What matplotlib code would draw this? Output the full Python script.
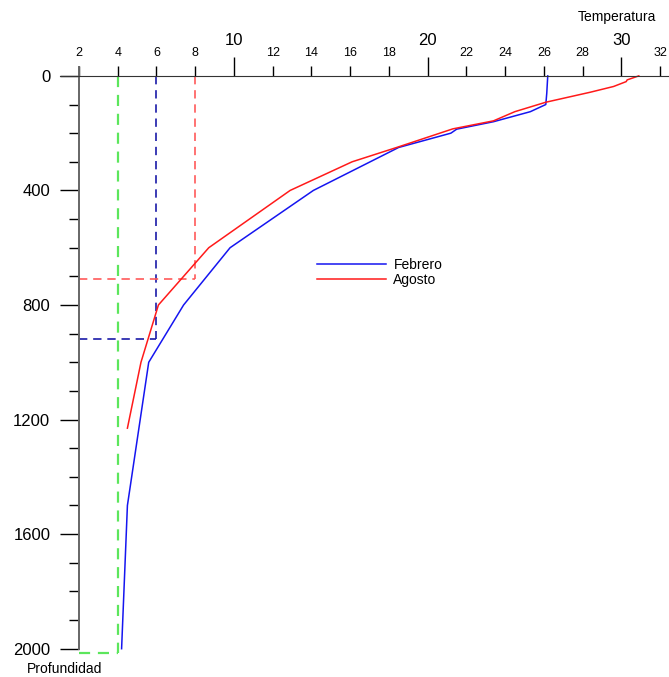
import matplotlib
matplotlib.use("Agg")
import matplotlib.pyplot as plt

plt.rcParams['font.family'] = ['Liberation Sans', 'DejaVu Sans']

# perfiles de temperatura (grados C) contra profundidad (m)
feb_depth = [0, 60, 100, 125, 160, 186, 200, 250, 400, 600, 800, 1000, 1500, 2000]
feb_temp = [26.2, 26.15, 26.1, 25.3, 23.4, 21.5, 21.2, 18.5, 14.1, 9.8, 7.4, 5.6, 4.5, 4.2]

ago_depth = [0, 14, 20, 37, 57, 92, 125, 157, 185, 250, 300, 400, 600, 800, 1000, 1230]
ago_temp = [30.9, 30.3, 30.25, 29.6, 28.4, 26.1, 24.5, 23.4, 21.3, 18.4, 16.1, 12.9, 8.7, 6.1, 5.2, 4.5]

# lineas de referencia (temperatura, profundidad de corte)
ref_temps = [4, 6, 8]
ref_depths = [2014, 918, 710]
ref_colors = ['#5ce65c', '#1a1aa8', '#ff5a5a']

minor_xticks = [2, 4, 6, 8, 12, 14, 16, 18, 22, 24, 26, 28, 32]
major_xticks = [10, 20, 30]
major_yticks = [0, 400, 800, 1200, 1600, 2000]
minor_yticks = list(range(0, 2001, 100))

PX = 72 / 100  # puntos por pixel

fig = plt.figure(figsize=(6.69, 6.77), dpi=100)
ax = fig.add_axes([60 / 669, 24 / 677, 609 / 669, 586 / 677])
ax.set_xlim(1.02, 32.46)
ax.set_ylim(2015, -31)

for t, d, c in zip(ref_temps, ref_depths, ref_colors):
    lw = 1.6 if t == 4 else 1.2
    ax.plot([t, t], [0, d], color=c, lw=lw, dashes=(5, 3.5), clip_on=False)
    ax.plot([2, t], [d, d], color=c, lw=lw, dashes=(5, 3.5), clip_on=False)

ax.plot(feb_temp, feb_depth, color='#1515f0', lw=1.1, label='Febrero')
ax.plot(ago_temp, ago_depth, color='#ff1a1a', lw=1.1, label='Agosto')

# ejes
for s in ['right', 'bottom']:
    ax.spines[s].set_visible(False)
ax.spines['top'].set_position(('data', 0))
ax.spines['top'].set_color('#333333')
ax.spines['left'].set_position(('data', 2))
ax.spines['left'].set_bounds(2000, -31)
ax.spines['left'].set_color('#666666')
ax.spines['left'].set_linewidth(1.4)

ax.xaxis.tick_top()
ax.set_xticks(major_xticks)
ax.set_xticklabels([str(v) for v in major_xticks], fontsize=12)
ax.set_xticks(minor_xticks, minor=True)
ax.set_xticklabels([str(v) for v in minor_xticks], minor=True, fontsize=9)
ax.tick_params(axis='x', which='major', direction='out', length=19 * PX, width=1, pad=6.5)
ax.tick_params(axis='x', which='minor', direction='out', length=10 * PX, width=1, pad=5)

ax.set_yticks(major_yticks)
ax.set_yticklabels([str(v) for v in major_yticks], fontsize=12)
ax.set_yticks([v for v in minor_yticks if v not in major_yticks], minor=True)
ax.tick_params(axis='y', which='major', direction='out', length=19 * PX, width=1, pad=7)
ax.tick_params(axis='y', which='minor', direction='out', length=10 * PX, width=1)

fig.text(617 / 669, 1 - 17 / 677, 'Temperatura', fontsize=10, ha='center', va='center')
fig.text(65 / 669, 1 - 669 / 677, 'Profundidad', fontsize=10, ha='center', va='center')

ax.legend(loc='upper left', bbox_to_anchor=(317 / 669, 1 - 258 / 677),
          bbox_transform=fig.transFigure, frameon=False, fontsize=10,
          handlelength=5.0, handletextpad=0.5, labelspacing=0.05,
          borderpad=0, borderaxespad=0)

fig.savefig('out.png', dpi=100)
